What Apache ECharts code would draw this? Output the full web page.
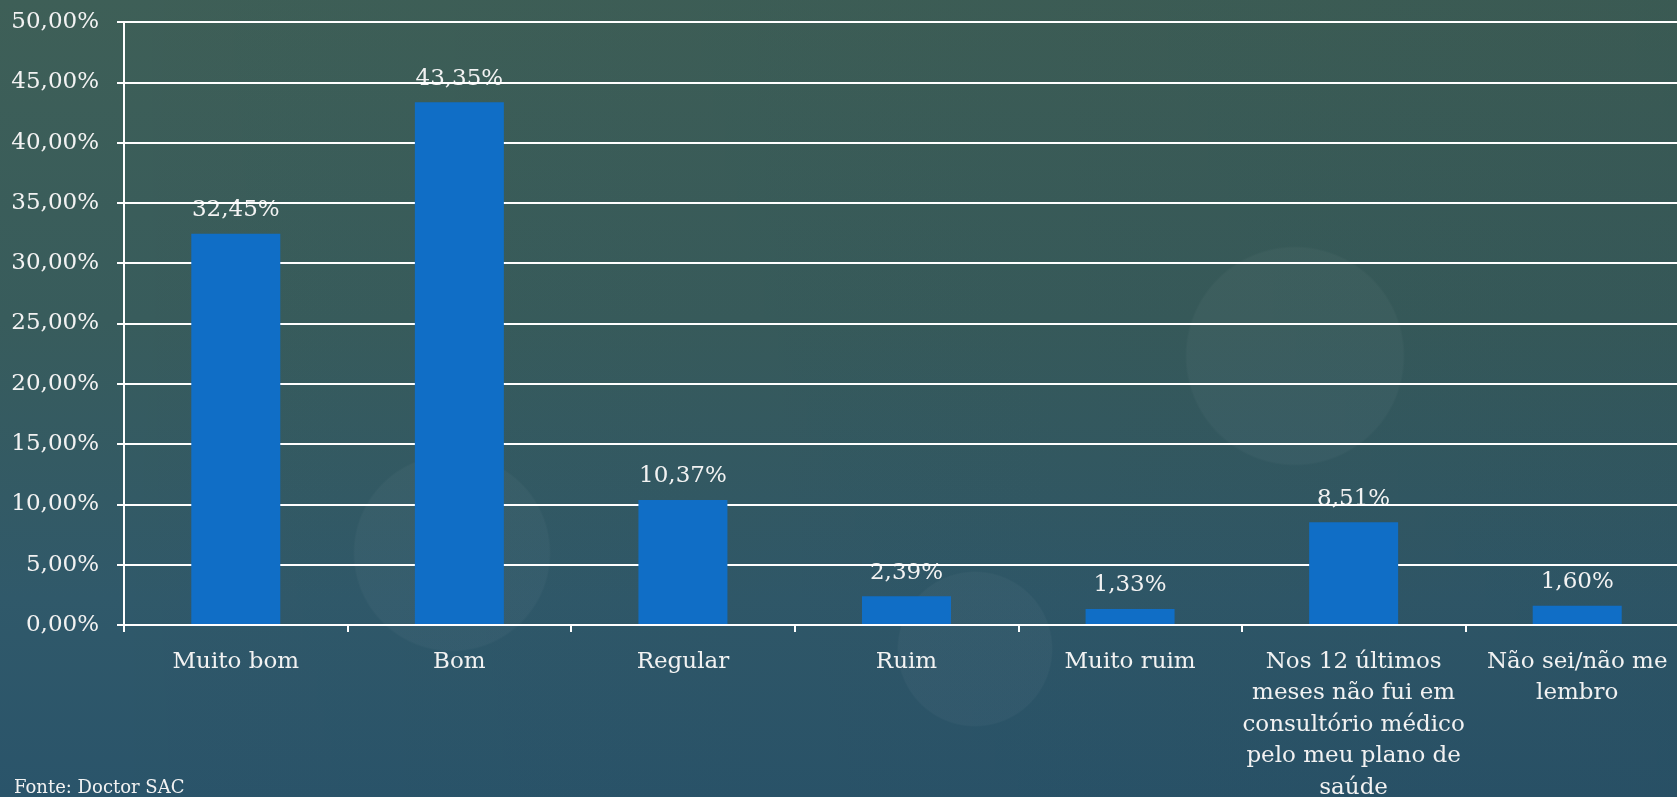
<!DOCTYPE html>
<html>
<head>
<meta charset="utf-8">
<script src="https://cdn.jsdelivr.net/npm/echarts@6/dist/echarts.min.js"></script>
<style>
  html, body { margin: 0; padding: 0; overflow: hidden; }
  #chart {
    width: 1677px;
    height: 797px;
    background:
      radial-gradient(circle 110px at 1295px 356px, rgba(255,255,255,0.032) 98%, rgba(255,255,255,0) 100%),
      radial-gradient(circle 99px at 452px 553px, rgba(255,255,255,0.03) 98%, rgba(255,255,255,0) 100%),
      radial-gradient(circle 78px at 975px 649px, rgba(255,255,255,0.032) 98%, rgba(255,255,255,0) 100%),
      linear-gradient(90deg, rgba(0,0,0,0) 0%, rgba(0,10,20,0.06) 100%),
      linear-gradient(180deg, #3e5f57 0%, #385c5c 40%, #30596a 75%, #2a546a 100%);
  }
</style>
</head>
<body>
<div id="chart"></div>
<script>
// Avaliação do atendimento em consultório médico pelo plano de saúde
const categories = [
  'Muito bom',
  'Bom',
  'Regular',
  'Ruim',
  'Muito ruim',
  'Nos 12 últimos\nmeses não fui em\nconsultório médico\npelo meu plano de\nsaúde',
  'Não sei/não me\nlembro'
];
const values = [32.45, 43.35, 10.37, 2.39, 1.33, 8.51, 1.60];
const axisMax = 50;
const axisStep = 5;
const sourceNote = 'Fonte: Doctor SAC';

const pct = v => Number(v).toFixed(2).replace('.', ',') + '%';

const FONT = '"DejaVu Serif", "Liberation Serif", serif';
const TEXT = '#f2f2f2';

const chart = echarts.init(document.getElementById('chart'), null, { renderer: 'canvas' });

chart.setOption({
  backgroundColor: 'transparent',
  animation: false,
  grid: {
    left: 124, top: 22, width: 1565, height: 603,
    containLabel: false,
    outerBoundsMode: 'none'
  },
  xAxis: {
    type: 'category',
    data: categories,
    z: 6,
    axisLine: { show: true, lineStyle: { color: '#ffffff', width: 2 } },
    axisTick: { show: true, length: 7, lineStyle: { color: '#ffffff', width: 2 } },
    axisLabel: {
      interval: 0,
      margin: 21,
      color: TEXT,
      fontFamily: FONT,
      fontSize: 23,
      lineHeight: 31.5,
      align: 'center'
    },
    splitLine: { show: false }
  },
  yAxis: {
    type: 'value',
    min: 0,
    max: axisMax,
    interval: axisStep,
    z: 3,
    axisLine: { show: true, lineStyle: { color: '#ffffff', width: 2 } },
    axisTick: { show: true, length: 7, lineStyle: { color: '#ffffff', width: 2 } },
    axisLabel: {
      margin: 25,
      color: TEXT,
      fontFamily: FONT,
      fontSize: 23,
      formatter: pct
    },
    splitLine: { show: true, lineStyle: { color: '#ffffff', width: 2 } }
  },
  series: [
    {
      // value labels sit beneath the gridlines
      name: 'rótulos',
      type: 'bar',
      data: values,
      barWidth: 89,
      z: 1,
      itemStyle: { color: 'rgba(0,0,0,0)' },
      label: {
        show: true,
        position: 'top',
        distance: 12,
        color: TEXT,
        fontFamily: FONT,
        fontSize: 23,
        formatter: p => pct(p.value)
      },
      silent: true
    },
    {
      name: 'Avaliação',
      type: 'bar',
      data: values,
      barWidth: 89,
      barGap: '-100%',
      z: 5,
      itemStyle: { color: '#106ec6' },
      label: { show: false }
    }
  ],
  graphic: [
    {
      type: 'text',
      left: 14,
      top: 779,
      style: {
        text: sourceNote,
        fill: TEXT,
        font: '18px ' + FONT
      }
    }
  ]
});
</script>
</body>
</html>
